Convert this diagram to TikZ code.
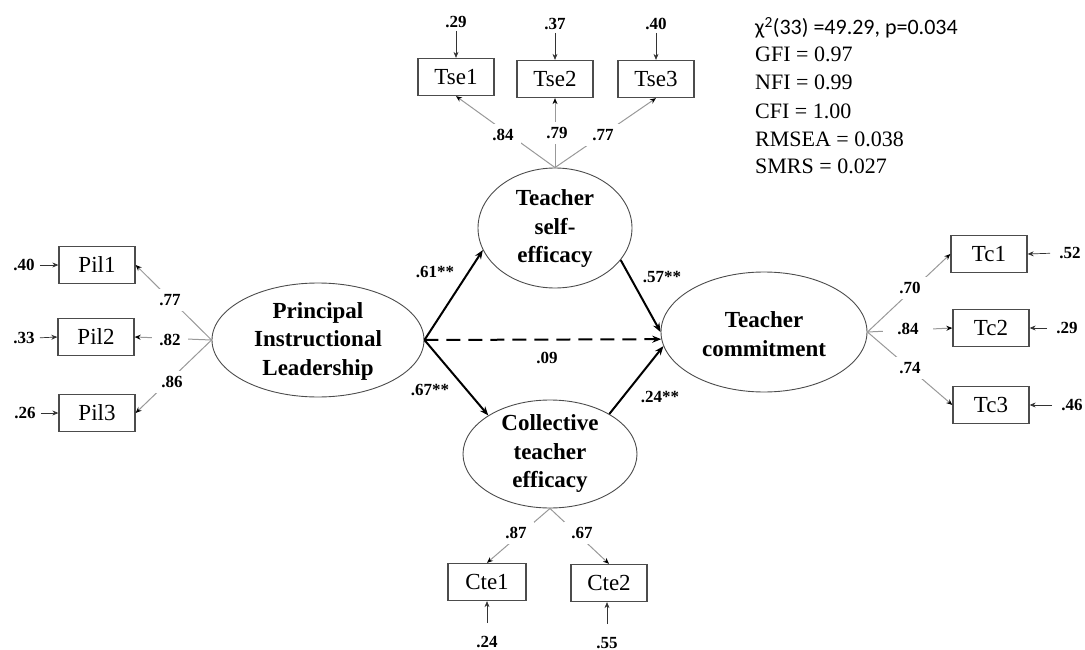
\documentclass[tikz,border=0pt]{standalone}
\usepackage{fontspec}
\setmainfont{Liberation Serif}
\newfontfamily\calib{Carlito}
\usetikzlibrary{shapes.geometric,arrows.meta}
\begin{document}
\begin{tikzpicture}[x=1pt,y=-1pt,
  lat/.style={ellipse, draw=black!70, line width=0.9pt, inner sep=0pt},
  lattext/.style={font=\fontsize{23}{28.5}\selectfont\bfseries, align=center, inner sep=0pt},
  obs/.style={rectangle, draw=black!70, line width=1.3pt, minimum width=76pt, minimum height=37pt, inner sep=0pt, font=\fontsize{23}{26}\selectfont},
  num/.style={font=\fontsize{17}{19}\selectfont\bfseries, inner sep=1pt},
  err/.style={-{Stealth[length=6pt,width=5pt]}, line width=0.7pt, draw=black!80},
  load/.style={-{Stealth[length=6pt,width=5pt,color=black]}, line width=1pt, draw=black!40},
  lab/.style={num, fill=white, inner xsep=7pt, inner ysep=5pt},
  struct/.style={-{Stealth[length=9pt,width=7pt]}, line width=2pt},
  fit/.style={anchor=base west, inner sep=0pt, font=\fontsize{22}{26}\selectfont},
]
\useasboundingbox (0,0) rectangle (1085,650);

% latent variables
\node[lat, minimum width=212pt, minimum height=114pt] (pil) at (318,340) {};
\node[lattext] (pilt) at (318,341) {Principal\\Instructional\\Leadership};
\node[lat, minimum width=154pt, minimum height=120pt] (tse) at (555,228) {};
\node[lattext] (tset) at (555,229) {Teacher\\self-\\efficacy};
\node[lat, minimum width=174pt, minimum height=108pt] (cte) at (550,454) {};
\node[lattext] (ctet) at (550,454) {Collective\\teacher\\efficacy};
\node[lat, minimum width=206pt, minimum height=120pt] (tc) at (764,332) {};
\node[lattext] (tct) at (764,334) {Teacher\\commitment};

% observed variables
\node[obs] (tse1) at (456,77) {Tse1};
\node[obs] (tse2) at (555,79) {Tse2};
\node[obs] (tse3) at (656,79) {Tse3};
\node[obs] (pil1) at (97,265) {Pil1};
\node[obs] (pil2) at (96,337) {Pil2};
\node[obs] (pil3) at (97,413) {Pil3};
\node[obs] (tc1) at (989,254) {Tc1};
\node[obs] (tc2) at (991,328) {Tc2};
\node[obs] (tc3) at (991,405) {Tc3};
\node[obs, minimum width=78pt] (cte1) at (487,582) {Cte1};
\node[obs] (cte2) at (609,583) {Cte2};

% error terms
\node[num] (e1) at (456,22) {.29};
\node[num] (e2) at (555,24) {.37};
\node[num] (e3) at (656,24) {.40};
\draw[err, shorten <=2pt] (e1.south) -- (tse1.north);
\draw[err, shorten <=2pt] (e2.south) -- (tse2.north);
\draw[err, shorten <=2pt] (e3.south) -- (tse3.north);
\node[num] (e4) at (24,265) {.40};
\node[num] (e5) at (24,338) {.33};
\node[num] (e6) at (25,413) {.26};
\draw[err, shorten <=4pt] (e4.east) -- (pil1.west);
\draw[err, shorten <=4pt] (e5.east) -- (pil2.west);
\draw[err, shorten <=4pt] (e6.east) -- (pil3.west);
\node[num] (e7) at (1070,253) {.52};
\node[num] (e8) at (1067,328) {.29};
\node[num] (e9) at (1072,405) {.46};
\draw[err, shorten <=8pt] (e7.west) -- (tc1.east);
\draw[err, shorten <=8pt] (e8.west) -- (tc2.east);
\draw[err, shorten <=8pt] (e9.west) -- (tc3.east);
\node[num] (e10) at (487,642) {.24};
\node[num] (e11) at (607,643) {.55};
\draw[err, shorten <=12pt] (e10.north) -- (e10.north |- cte1.south);
\draw[err, shorten <=12pt] (e11.north) -- (e11.north |- cte2.south);

% loadings
\draw[load] (tse.north) -- (tse1.south);
\draw[load] (tse.north) -- (tse2.south);
\draw[load] (tse.north) -- (tse3.south);
\node[lab] (l1) at (503,135) {.84};
\node[lab] (l2) at (557,133) {.79};
\node[lab] (l3) at (603,135) {.77};

\draw[load] (pil.west) -- (pil1.east);
\draw[load] (pil.west) -- (pil2.east);
\draw[load] (pil.west) -- (pil3.east);
\node[lab] (l4) at (170,300) {.77};
\node[lab] (l5) at (170,340) {.82};
\node[lab] (l6) at (172,382) {.86};

\draw[load] (tc.east) -- (tc1.west);
\draw[load] (tc.east) -- (tc2.west);
\draw[load] (tc.east) -- (tc3.west);
\node[lab] (l7) at (910,288) {.70};
\node[lab, inner xsep=14pt] (l8) at (908,329) {.84};
\node[lab] (l9) at (910,368) {.74};

\draw[load] (cte.south) -- (cte1.north);
\draw[load] (cte.south) -- (cte2.north);
\node[lab] (l10) at (516,533) {.87};
\node[lab] (l11) at (582,533) {.67};

% structural paths
\draw[struct] (pil.east) -- (tse.197);
\draw[struct] (pil.east) -- (cte.148);
\draw[struct] (tse.-26) -- (tc.180);
\draw[struct] (cte.34) -- (tc.188);
\draw[struct, dash pattern=on 14pt off 8pt] (pil.east) -- (tc.184);
\node[num] (p1) at (435,272) {.61**};
\node[num] (p2) at (430,390) {.67**};
\node[num] (p3) at (662,277) {.57**};
\node[num] (p4) at (660,397) {.24**};
\node[num] (p5) at (547,358) {.09};

% fit indices
\node[fit, font=\calib\fontsize{22}{26}\selectfont] (f1) at (755,35) {χ\textsuperscript{2}(33) =49.29, p=0.034};
\node[fit] (f2) at (755,62) {GFI = 0.97};
\node[fit] (f3) at (755,90) {NFI = 0.99};
\node[fit] (f4) at (755,119) {CFI = 1.00};
\node[fit] (f5) at (755,147) {RMSEA = 0.038};
\node[fit] (f6) at (755,174) {SMRS = 0.027};
\end{tikzpicture}
\end{document}
